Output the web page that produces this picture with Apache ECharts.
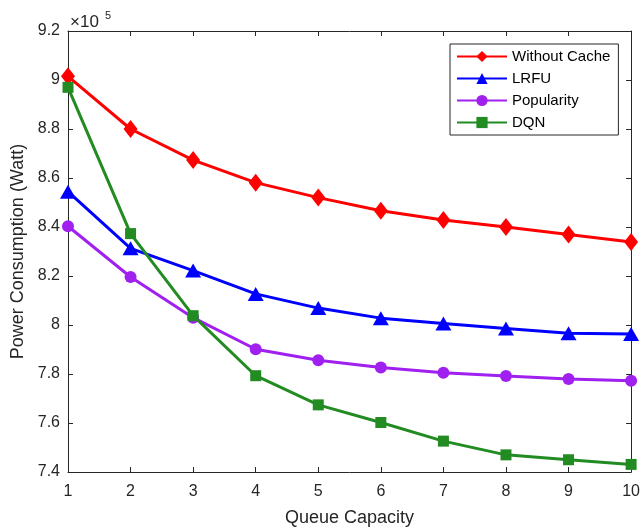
<!DOCTYPE html>
<html>
<head>
<meta charset="utf-8">
<script src="https://cdn.jsdelivr.net/npm/echarts@6/dist/echarts.min.js"></script>
<style>html,body{margin:0;padding:0;background:#fff;}#c{width:643px;height:532px;}</style>
</head>
<body>
<div id="c"></div>
<script>
const queueCapacity = [1, 2, 3, 4, 5, 6, 7, 8, 9, 10];
const withoutCache = [9.015, 8.800, 8.673, 8.581, 8.520, 8.466, 8.429, 8.400, 8.369, 8.339];
const lrfu = [8.544, 8.313, 8.222, 8.127, 8.069, 8.028, 8.006, 7.986, 7.966, 7.963];
const popularity = [8.403, 8.196, 8.030, 7.901, 7.856, 7.827, 7.805, 7.792, 7.780, 7.772];
const dqn = [8.970, 8.373, 8.038, 7.793, 7.674, 7.602, 7.526, 7.470, 7.450, 7.431];
const seriesNames = ['Without Cache', 'LRFU', 'Popularity', 'DQN'];
const yTicks = [7.4, 7.6, 7.8, 8, 8.2, 8.4, 8.6, 8.8, 9, 9.2];

const FONT = 'Liberation Sans, Arial, Helvetica, sans-serif';
const AX = '#262626';
const pair = arr => queueCapacity.map((x, i) => [x, arr[i]]);

const chart = echarts.init(document.getElementById('c'), null, {renderer: 'canvas'});

function mkSeries(name, data, color, symbol, size) {
  return {
    name, type: 'line', data: pair(data),
    xAxisIndex: 0, yAxisIndex: 0,
    symbol, symbolSize: size, showSymbol: true,
    lineStyle: {color, width: 3},
    itemStyle: {color, borderWidth: 0},
    emphasis: {disabled: true},
    animation: false, z: 3
  };
}

const baseAxisLine = {show: true, lineStyle: {color: AX, width: 1}};
const tick = {show: true, inside: true, length: 5, lineStyle: {color: AX, width: 1}};

chart.setOption({
  backgroundColor: '#ffffff',
  animation: false,
  grid: {left: 68, right: 10, top: 31, bottom: 57, containLabel: false},
  legend: {
    orient: 'vertical', left: 450, top: 44,
    data: seriesNames,
    backgroundColor: '#ffffff',
    borderColor: AX, borderWidth: 1,
    padding: [5, 8, 5, 6],
    itemWidth: 50, itemHeight: 14, itemGap: 7,
    textStyle: {fontFamily: FONT, fontSize: 15, color: '#000'},
    selectedMode: false
  },
  xAxis: [
    {type: 'value', min: 1, max: 10, interval: 1, position: 'bottom',
     axisLine: baseAxisLine, axisTick: tick, splitLine: {show: false},
     axisLabel: {fontFamily: FONT, fontSize: 16, color: AX, margin: 12},
     name: 'Queue Capacity', nameLocation: 'middle', nameGap: 37,
     nameTextStyle: {fontFamily: FONT, fontSize: 18, color: AX}},
    {type: 'value', min: 1, max: 10, interval: 1, position: 'top',
     axisLine: baseAxisLine, axisTick: tick, splitLine: {show: false},
     axisLabel: {show: false}}
  ],
  yAxis: [
    {type: 'value', min: 7.4, max: 9.2, interval: 0.2, position: 'left',
     axisLine: baseAxisLine, axisTick: tick, splitLine: {show: false},
     axisLabel: {fontFamily: FONT, fontSize: 16, color: AX, margin: 8,
       formatter: v => { const t = yTicks.find(k => Math.abs(k - v) < 1e-6); return t === undefined ? '' : String(t); }},
     name: 'Power Consumption (Watt)', nameLocation: 'middle', nameGap: 38,
     nameTextStyle: {fontFamily: FONT, fontSize: 18, color: AX}},
    {type: 'value', min: 7.4, max: 9.2, interval: 0.2, position: 'right',
     axisLine: baseAxisLine, axisTick: tick, splitLine: {show: false},
     axisLabel: {show: false}}
  ],
  graphic: [
    {type: 'text', x: 70, y: 22.5,
     style: {text: '×10', fontFamily: FONT, fontSize: 17, fill: AX, verticalAlign: 'middle', align: 'left'}},
    {type: 'text', x: 105, y: 16,
     style: {text: '5', fontFamily: FONT, fontSize: 11, fill: AX, verticalAlign: 'middle', align: 'left'}}
  ],
  series: [
    mkSeries(seriesNames[0], withoutCache, '#ff0000', 'diamond', [14, 18]),
    mkSeries(seriesNames[1], lrfu, '#0000ff', 'triangle', [16, 14]),
    mkSeries(seriesNames[2], popularity, '#a020f0', 'circle', 12),
    mkSeries(seriesNames[3], dqn, '#228b22', 'rect', 11)
  ]
});
</script>
</body>
</html>
